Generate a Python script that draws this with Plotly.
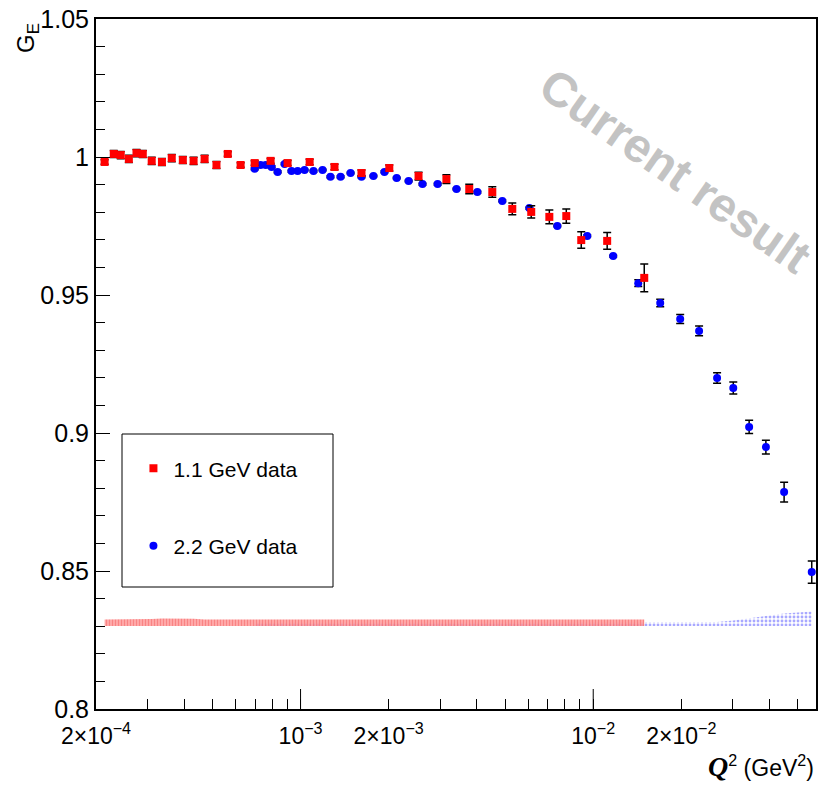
import numpy as np
import plotly.graph_objects as go

# ---------------- data ----------------
q2_red = [2.14e-4, 2.30e-4, 2.43e-4, 2.59e-4, 2.75e-4, 2.89e-4, 3.10e-4, 3.36e-4, 3.63e-4,
          3.96e-4, 4.31e-4, 4.70e-4, 5.16e-4, 5.64e-4, 6.24e-4, 6.97e-4, 7.90e-4, 9.03e-4,
          1.074e-3, 1.306e-3, 1.615e-3, 2.01e-3, 2.53e-3, 3.15e-3, 3.77e-3, 4.52e-3,
          5.29e-3, 6.14e-3, 7.08e-3, 8.09e-3, 9.10e-3, 1.116e-2, 1.494e-2]
ge_red = [0.9982, 1.0011, 1.0007, 0.9993, 1.0014, 1.0011, 0.9986, 0.9982, 0.9996,
          0.9989, 0.9986, 0.9993, 0.9971, 1.0011, 0.9971, 0.9978, 0.9986, 0.9978,
          0.9982, 0.9964, 0.9942, 0.9960, 0.9931, 0.9920, 0.9884, 0.9873,
          0.9812, 0.9801, 0.9783, 0.9786, 0.9699, 0.9696, 0.9562]
err_red = [0.0008, 0.0013, 0.0013, 0.0013, 0.0013, 0.0013, 0.0013, 0.0013, 0.0013,
           0.0013, 0.0013, 0.0013, 0.0013, 0.0008, 0.0008, 0.0008, 0.0009, 0.0009,
           0.0010, 0.0010, 0.0011, 0.0011, 0.0014, 0.0016, 0.0017, 0.0019,
           0.0021, 0.0022, 0.0025, 0.0026, 0.0030, 0.0030, 0.0050]
sys_red = [0.0023, 0.0023, 0.0023, 0.0023, 0.0023, 0.0024, 0.0025, 0.0027, 0.0027,
           0.0027, 0.0026, 0.0023, 0.0023, 0.0023, 0.0022, 0.0022, 0.0022, 0.0022,
           0.0022, 0.0022, 0.0022, 0.0022, 0.0022, 0.0022, 0.0023, 0.0022,
           0.0024, 0.0023, 0.0022, 0.0024, 0.0023, 0.0022, 0.0023]

q2_blue = [6.97e-4, 7.30e-4, 7.60e-4, 7.96e-4, 8.35e-4, 8.82e-4, 9.31e-4, 9.77e-4,
           1.032e-3, 1.107e-3, 1.189e-3, 1.265e-3, 1.370e-3, 1.482e-3, 1.615e-3, 1.774e-3,
           1.935e-3, 2.13e-3, 2.34e-3, 2.61e-3, 2.94e-3, 3.41e-3, 4.02e-3, 4.89e-3,
           6.05e-3, 7.54e-3, 9.54e-3, 1.170e-2, 1.425e-2, 1.694e-2, 1.982e-2, 2.30e-2,
           2.65e-2, 3.01e-2, 3.41e-2, 3.89e-2, 4.49e-2, 5.58e-2]
ge_blue = [0.9957, 0.9971, 0.9971, 0.9964, 0.9946, 0.9975, 0.9949, 0.9949,
           0.9953, 0.9949, 0.9953, 0.9928, 0.9928, 0.9942, 0.9928, 0.9931,
           0.9946, 0.9924, 0.9913, 0.9902, 0.9902, 0.9884, 0.9873, 0.9841,
           0.9815, 0.9750, 0.9714, 0.9641, 0.9543, 0.9471, 0.9413, 0.9370,
           0.9199, 0.9163, 0.9022, 0.8949, 0.8786, 0.8496]
err_blue = [0.0003] * 28 + [0.0012, 0.0014, 0.0016, 0.0018, 0.0019, 0.0022, 0.0024, 0.0025, 0.0036, 0.0040]
sys_blue = [0.0012] * 32 + [0.0014, 0.0020, 0.0028, 0.0037, 0.0045, 0.0052]

band_base = 0.8301

x_tickvals = [2e-4, 1e-3, 2e-3, 1e-2, 2e-2]
x_ticktext = ["2×10<sup>−4</sup>", "10<sup>−3</sup>", "2×10<sup>−3</sup>", "10<sup>−2</sup>", "2×10<sup>−2</sup>"]
y_tickvals = [0.8, 0.85, 0.9, 0.95, 1.0, 1.05]
y_ticktext = ["0.8", "0.85", "0.9", "0.95", "1", "1.05"]

FONT = "Liberation Sans, Arial, Helvetica, sans-serif"

fig = go.Figure()

# systematic bands
def band(x, sys, **kw):
    xs = list(x) + list(x)[::-1]
    ys = [band_base + s for s in sys] + [band_base] * len(x)
    return go.Scatter(x=xs, y=ys, mode="lines", fill="toself", line=dict(width=0),
                      hoverinfo="skip", showlegend=False, **kw)

fig.add_trace(band(q2_blue, sys_blue,
                   fillcolor="rgba(170,170,255,0.4)",
                   fillpattern=dict(shape=".", fgcolor="rgba(50,50,255,0.85)", bgcolor="rgba(255,255,255,0)",
                                    size=4, solidity=0.4)))
fig.add_trace(band(q2_red, sys_red,
                   fillcolor="rgba(255,120,120,0.6)",
                   fillpattern=dict(shape="|", fgcolor="rgba(240,80,80,0.85)", bgcolor="rgba(255,150,150,0.8)",
                                    size=3, solidity=0.4)))

# data points
fig.add_trace(go.Scatter(
    x=q2_blue, y=ge_blue, mode="markers", name="2.2 GeV data", legendrank=2,
    legendgroup="b",
    marker=dict(symbol="circle", size=8, color="#0000ff"),
    error_y=dict(type="data", array=err_blue, color="black", thickness=1.5, width=4),
))
fig.add_trace(go.Scatter(
    x=q2_red, y=ge_red, mode="markers", name="1.1 GeV data", legendrank=1,
    legendgroup="r",
    marker=dict(symbol="square", size=8, color="#ff0000"),
    error_y=dict(type="data", array=err_red, color="black", thickness=1.5, width=4),
))

# minor x ticks (log multiples)
minor_x = []
for dec in [1e-4, 1e-3, 1e-2]:
    for m in range(2, 10):
        v = m * dec
        if 2e-4 <= v <= 5.7e-2 and v not in x_tickvals:
            minor_x.append(v)

x_lo, x_hi = np.log10(2e-4), -1.2388

fig.update_layout(
    width=828, height=786,
    margin=dict(l=96, r=12, t=19, b=77),
    paper_bgcolor="white", plot_bgcolor="white",
    font=dict(family=FONT, color="black", size=24),
    xaxis=dict(type="log", range=[x_lo, x_hi], tickmode="array", tickvals=x_tickvals,
               ticktext=x_ticktext, ticks="inside", ticklen=10, tickwidth=1, tickcolor="black",
               showline=True, linecolor="black", linewidth=2, mirror=True, showgrid=False,
               zeroline=False, tickfont=dict(size=23), automargin=False, ticklabelstandoff=5,
               minor=dict(tickmode="array", tickvals=minor_x, ticks="inside", ticklen=10,
                          tickcolor="black", tickwidth=1, showgrid=False)),
    yaxis=dict(range=[0.8, 1.05], tickmode="array", tickvals=y_tickvals, ticktext=y_ticktext,
               ticks="inside", ticklen=14, tickwidth=1, tickcolor="black",
               showline=True, linecolor="black", linewidth=2, mirror=True, showgrid=False,
               zeroline=False, tickfont=dict(size=25), automargin=False,
               minor=dict(dtick=0.01, ticks="inside", ticklen=9, tickcolor="black",
                          tickwidth=1, showgrid=False)),
    legend=dict(x=0.052, y=0.378, xanchor="left", yanchor="top", bgcolor="rgba(0,0,0,0)",
                borderwidth=0, font=dict(size=21), tracegroupgap=47, itemwidth=30),
    showlegend=True,
)

# longer decade ticks
for v in [1e-3, 1e-2]:
    fig.add_shape(type="line", xref="x", yref="paper", x0=v, x1=v, y0=0, y1=20 / 690,
                  line=dict(color="black", width=1))

# legend box
fig.add_shape(type="rect", xref="paper", yref="paper",
              x0=(122 - 96) / 720, x1=(333 - 96) / 720,
              y0=(709 - 587) / 690, y1=(709 - 434) / 690,
              line=dict(color="black", width=1), fillcolor="rgba(0,0,0,0)")

# axis titles
fig.add_annotation(xref="paper", yref="paper", x=(28 - 96) / 720, y=(709 - 38) / 690,
                   text="G<sub>E</sub>", showarrow=False, textangle=-90,
                   font=dict(size=24), xanchor="center", yanchor="middle")
fig.add_annotation(xref="paper", yref="paper", x=1.0, y=(709 - 766) / 690,
                   text="<span style='font-family:Liberation Serif;font-size:28px'><b><i>Q</i></b></span><sup>2</sup> (GeV<sup>2</sup>)",
                   showarrow=False, font=dict(size=23), xanchor="right", yanchor="middle")

# watermark
fig.add_annotation(xref="paper", yref="paper", x=(675 - 96) / 720, y=(709 - 170) / 690,
                   text="<b>Current result</b>", showarrow=False, textangle=35,
                   xanchor="center", yanchor="middle",
                   font=dict(size=48, color="rgba(185,185,185,0.85)"))

fig.write_html("out.html")
